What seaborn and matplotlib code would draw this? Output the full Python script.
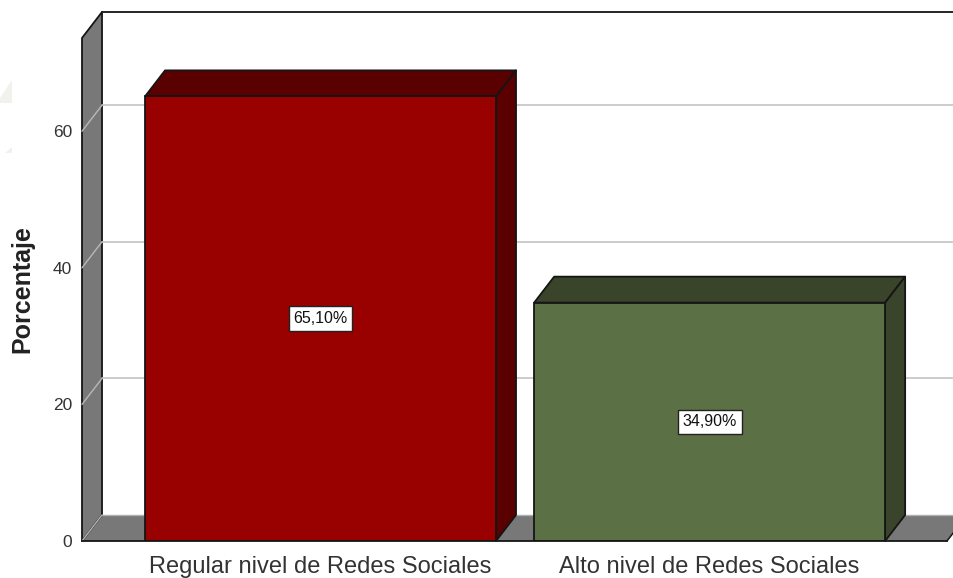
import matplotlib
matplotlib.use("Agg")
import matplotlib.pyplot as plt
from matplotlib.patches import Polygon
import pandas as pd
import seaborn as sns

categories = ["Regular nivel de Redes Sociales", "Alto nivel de Redes Sociales"]
percent = [65.1, 34.9]
labels = ["65,10%", "34,90%"]
yticks = [0, 20, 40, 60]
front_colors = ["#990000", "#5c7046"]
top_colors = ["#5a0000", "#3a442b"]
wall_color = "#787878"
edge = "#151515"

sns.set_theme(style="white")
plt.rcParams["font.family"] = ["Liberation Sans", "DejaVu Sans"]

W, H = 954, 578
fig = plt.figure(figsize=(W / 100, H / 100), dpi=100)
ax = fig.add_axes([82 / W, 1 - 541 / H, (947 - 82) / W, (541 - 38) / H])

df = pd.DataFrame({"cat": categories, "pct": percent})
sns.barplot(data=df, x="cat", y="pct", hue="cat", palette=front_colors, legend=False,
            width=0.902, edgecolor=edge, linewidth=1.3, saturation=1, ax=ax, zorder=5)

x0, x1 = -0.613, 1.61
y1 = 73.65
ax.set_xlim(x0, x1)
ax.set_ylim(0, y1)

# depth of the fake 3d box
dx = 20 / 389
dy = 26 / (503 / y1)
xr = x1 + dx


def face(pts, color, z, lw=1.3, ec=edge):
    ax.add_patch(Polygon(pts, closed=True, facecolor=color, edgecolor=ec,
                         linewidth=lw, clip_on=False, zorder=z, joinstyle="round"))


# walls
face([(x0, 0), (x0 + dx, dy), (xr, dy), (x1, 0)], wall_color, 1, ec="none")
face([(x0, 0), (x0 + dx, dy), (x0 + dx, y1 + dy), (x0, y1)], wall_color, 1)
ax.plot([x0 + dx, xr], [y1 + dy, y1 + dy], color=edge, lw=1.3, clip_on=False, zorder=1)
ax.plot([x1, xr], [0, dy], color=edge, lw=1.1, clip_on=False, zorder=1)
ax.plot([x0 + dx, xr], [dy, dy], color="#b0b0b0", lw=1, clip_on=False, zorder=1)

# gridlines on back wall and their slant on the side wall
for t in yticks:
    if t > 0:
        ax.plot([x0 + dx, xr], [t + dy, t + dy], color="#c4c4c4", lw=1.2, clip_on=False, zorder=2)
    ax.plot([x0, x0 + dx], [t, t + dy], color="#b8b8b8", lw=1, clip_on=False, zorder=2)

# bar top and side faces
for bar, top, lab in zip(ax.patches[:2], top_colors, labels):
    l, w, h = bar.get_x(), bar.get_width(), bar.get_height()
    r = l + w
    face([(l, h), (l + dx, h + dy), (r + dx, h + dy), (r, h)], top, 4)
    face([(r, 0), (r + dx, dy), (r + dx, h + dy), (r, h)], top, 4)
    ax.text(l + w / 2, h / 2, lab, ha="center", va="center", fontsize=11.5, color="#111111", zorder=7,
            bbox=dict(boxstyle="square,pad=0.3", facecolor="white", edgecolor="#222222", linewidth=1))

for s in ["top", "right", "left"]:
    ax.spines[s].set_visible(False)
ax.spines["bottom"].set_color(edge)
ax.spines["bottom"].set_linewidth(1.3)
ax.spines["bottom"].set_zorder(6)

ax.set_yticks(yticks)
ax.tick_params(axis="y", length=0, pad=7, labelsize=12.5, labelcolor="#333333")
ax.tick_params(axis="x", length=0, pad=11, labelsize=17, labelcolor="#333333")
ax.set_xlabel("")
ax.set_ylabel("")
fig.text(22 / W, 1 - 289 / H, "Porcentaje", rotation=90, ha="center", va="center",
         fontsize=18, fontweight="bold", color="#222222")

# faint remains of a watermark on the left edge
for pts in ([(12, 80), (0, 98), (0, 103), (12, 103)], [(12, 147), (5, 153), (12, 153)]):
    fig.add_artist(Polygon([(px / W, 1 - py / H) for px, py in pts], closed=True,
                           transform=fig.transFigure, facecolor="#f0f2ee", edgecolor="none"))

fig.savefig("out.png", dpi=100)
